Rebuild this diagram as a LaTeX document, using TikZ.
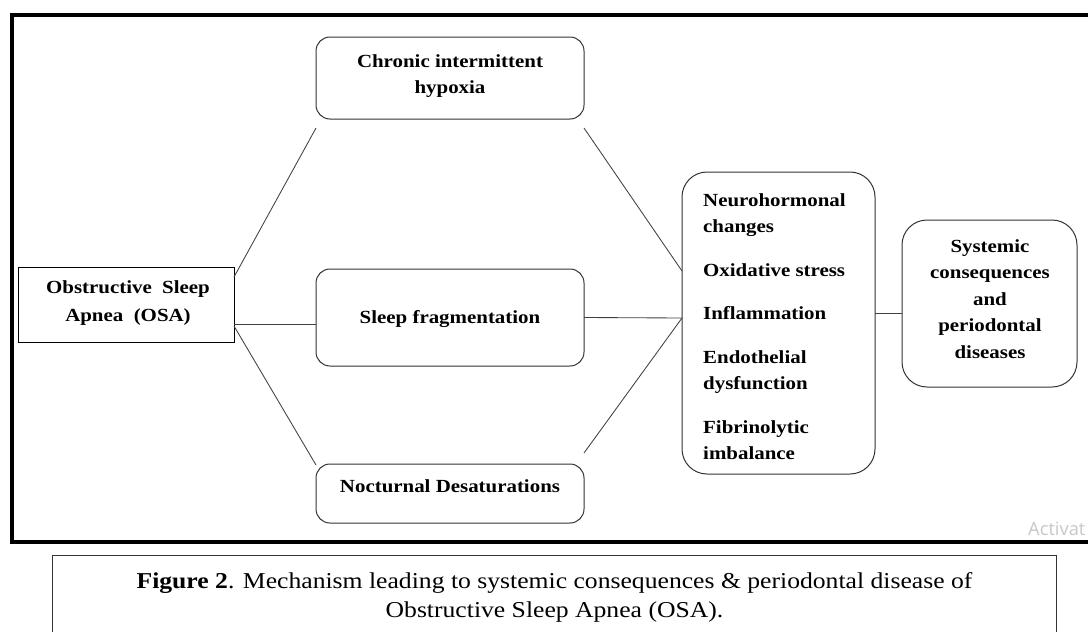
\documentclass[tikz,border=0pt]{standalone}
\usepackage{fontspec}
\setmainfont[FakeStretch=1.13]{Liberation Serif}
\newfontfamily\wmfont{Open Sans}
\usetikzlibrary{calc}
\newcommand\centtab[1]{\begin{tabular}[t]{@{}c@{}}#1\end{tabular}}
\newcommand\lefttab[1]{\begin{tabular}[t]{@{}l@{}}#1\end{tabular}}
\tikzset{
  frame/.style={line width=4pt, draw=black, miter limit=10},
  rbox/.style={draw=black!80, line width=1pt, rounded corners=14pt, inner sep=0pt, outer sep=0pt, anchor=north west},
  bigbox/.style={rbox, rounded corners=25pt},
  sbox/.style={draw=black, line width=1pt, inner sep=0pt, outer sep=0pt, anchor=north west},
  capbox/.style={draw=black!80, line width=0.9pt, inner sep=0pt, outer sep=0pt, anchor=north west},
  link/.style={draw=black!75, line width=0.85pt},
  dtext/.style={inner sep=0pt, font=\bfseries\fontsize{18.5}{26.5}\selectfont},
  ctext/.style={inner sep=0pt, font=\fontsize{22.7}{29}\selectfont},
}
\begin{document}
\begin{tikzpicture}[x=1pt,y=-1pt]
\useasboundingbox (0,0) rectangle (1088,632);
\clip (0,0) rectangle (1088,632);
\fill[white] (0,0) rectangle (1088,632);

% outer frame
\draw[frame] (1100,15) -- (12,15) -- (12,542) -- (1100,542);

% boxes
\node[sbox, minimum width=216pt, minimum height=75pt] (osa) at (18,267) {};
\node[rbox, minimum width=268pt, minimum height=82pt] (chronic) at (316,37) {};
\node[rbox, minimum width=268pt, minimum height=97pt] (sleep) at (316,269) {};
\node[rbox, minimum width=268pt, minimum height=59pt] (noct) at (316,464) {};
\node[bigbox, minimum width=193pt, minimum height=302pt] (mid) at (682,172) {};
\node[bigbox, minimum width=175pt, minimum height=167pt] (sys) at (902,220) {};
\node[capbox, minimum width=1004pt, minimum height=120pt] (cap) at (52,555) {};

% texts
\node[dtext, anchor=base] (osat) at (128,293) {\centtab{Obstructive\ \ Sleep\\[1.5pt]Apnea\ \ (OSA)}};
\node[dtext, anchor=base] (chronict) at (450,67) {\centtab{Chronic intermittent\\hypoxia}};
\node[dtext, anchor=base] (sleept) at (450,323) {Sleep fragmentation};
\node[dtext, anchor=base] (noctt) at (450,492) {Nocturnal Desaturations};
\node[dtext, anchor=base west] (midt) at (703,206) {\lefttab{Neurohormonal\\changes\\[17pt]Oxidative stress\\[17pt]Inflammation\\[17pt]Endothelial\\dysfunction\\[17pt]Fibrinolytic\\imbalance}};
\node[dtext, anchor=base] (syst) at (990,252) {\centtab{Systemic\\consequences\\and\\periodontal\\diseases}};

\node[ctext, anchor=base] (capt) at (554.5,588) {\centtab{\textbf{Figure 2}. Mechanism leading to systemic consequences \& periodontal disease of\\Obstructive Sleep Apnea (OSA).}};

\node[anchor=base west, inner sep=0pt, text=black!22, font=\wmfont\fontsize{18.3}{20}\selectfont] (wm) at (1028,535) {Activat};

% connectors
\draw[link] ($(osa.north east)+(0,10)$) -- ($(chronic.south west)+(0,9)$);
\draw[link] ($(osa.east)+(0,19.5)$) -- ($(sleep.west)+(0,6.5)$);
\draw[link] ($(osa.east)+(0,21.5)$) -- ($(noct.north west)+(0,1)$);
\draw[link] ($(chronic.south east)+(0,9)$) -- ($(mid.west)+(0,-52)$);
\draw[link] (sleep.east) -- ($(mid.west)+(0,-5)$);
\draw[link] ($(noct.north east)+(0,-11)$) -- ($(mid.west)+(0,-5)$);
\draw[link] ($(mid.east)+(0,-10)$) -- ($(sys.west)+(0,9.5)$);
\end{tikzpicture}
\end{document}
